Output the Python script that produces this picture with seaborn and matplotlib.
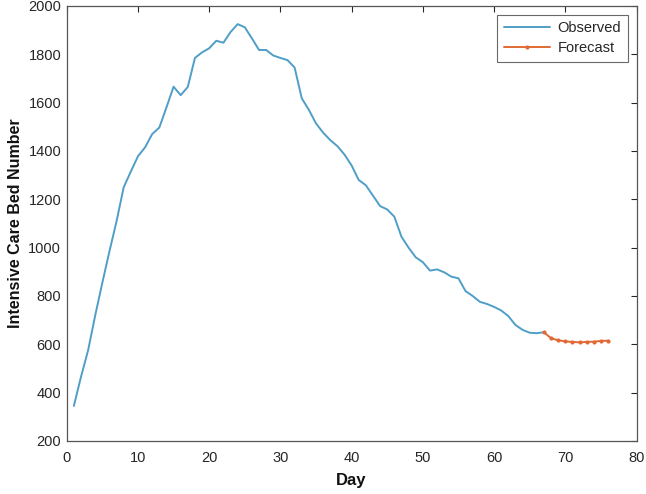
import numpy as np
import pandas as pd
import matplotlib
matplotlib.use("Agg")
import matplotlib.pyplot as plt
import seaborn as sns

obs_days = list(range(1, 68))
obs_values = [345, 465, 575, 720, 855, 985, 1110, 1250, 1315, 1378,
              1415, 1470, 1497, 1580, 1666, 1631, 1665, 1785, 1808, 1825,
              1856, 1848, 1892, 1925, 1912, 1866, 1818, 1818, 1795, 1785,
              1776, 1745, 1618, 1570, 1514, 1476, 1445, 1420, 1385, 1340,
              1280, 1258, 1215, 1172, 1158, 1128, 1045, 1000, 960, 940,
              905, 910, 898, 880, 873, 820, 800, 776, 767, 755,
              740, 717, 680, 660, 648, 646, 650]
fc_days = list(range(67, 77))
fc_values = [650, 625, 617, 612, 610, 608, 610, 611, 614, 615]

x_ticks = [0, 10, 20, 30, 40, 50, 60, 70, 80]
y_ticks = [200, 400, 600, 800, 1000, 1200, 1400, 1600, 1800, 2000]

sns.set_style("white")
plt.rcParams['font.family'] = ['Liberation Sans', 'DejaVu Sans']

fig = plt.figure(figsize=(6.46, 4.94), dpi=100)
ax = fig.add_axes([0.1033, 0.1073, 0.882, 0.8806])

obs = pd.DataFrame({"Day": obs_days, "Value": obs_values})
fc = pd.DataFrame({"Day": fc_days, "Value": fc_values})

sns.lineplot(data=obs, x="Day", y="Value", ax=ax, color="#4f9ec8", lw=1.4, label="Observed")
sns.lineplot(data=fc, x="Day", y="Value", ax=ax, color="#e06a35", lw=1.4, marker="o",
             markersize=3, markeredgewidth=0, label="Forecast")

ax.set_xlim(0, 80)
ax.set_ylim(200, 2000)
ax.set_xticks(x_ticks)
ax.set_yticks(y_ticks)
ax.tick_params(direction="in", length=4, width=0.8, colors="#262626", labelsize=10.5,
               top=True, right=True, labeltop=False, labelright=False)
ax.tick_params(axis="x", pad=7)
ax.tick_params(axis="y", pad=4)
for lbl in ax.get_xticklabels() + ax.get_yticklabels():
    lbl.set_color("#262626")
for s in ax.spines.values():
    s.set_color("#555555")
    s.set_linewidth(0.9)
    s.set_visible(True)

ax.set_xlabel("Day", fontsize=12, fontweight="bold", color="#111111", labelpad=6)
ax.set_ylabel("Intensive Care Bed Number", fontsize=11.5, fontweight="bold", color="#111111", labelpad=4)

leg = ax.legend(loc="upper right", fontsize=10.5, frameon=True, fancybox=False,
                edgecolor="#444444", borderpad=0.45, handlelength=3.2, labelspacing=0.4,
                borderaxespad=0.6, handletextpad=0.5)
leg.get_frame().set_linewidth(0.8)

fig.savefig("out.png", dpi=100)
